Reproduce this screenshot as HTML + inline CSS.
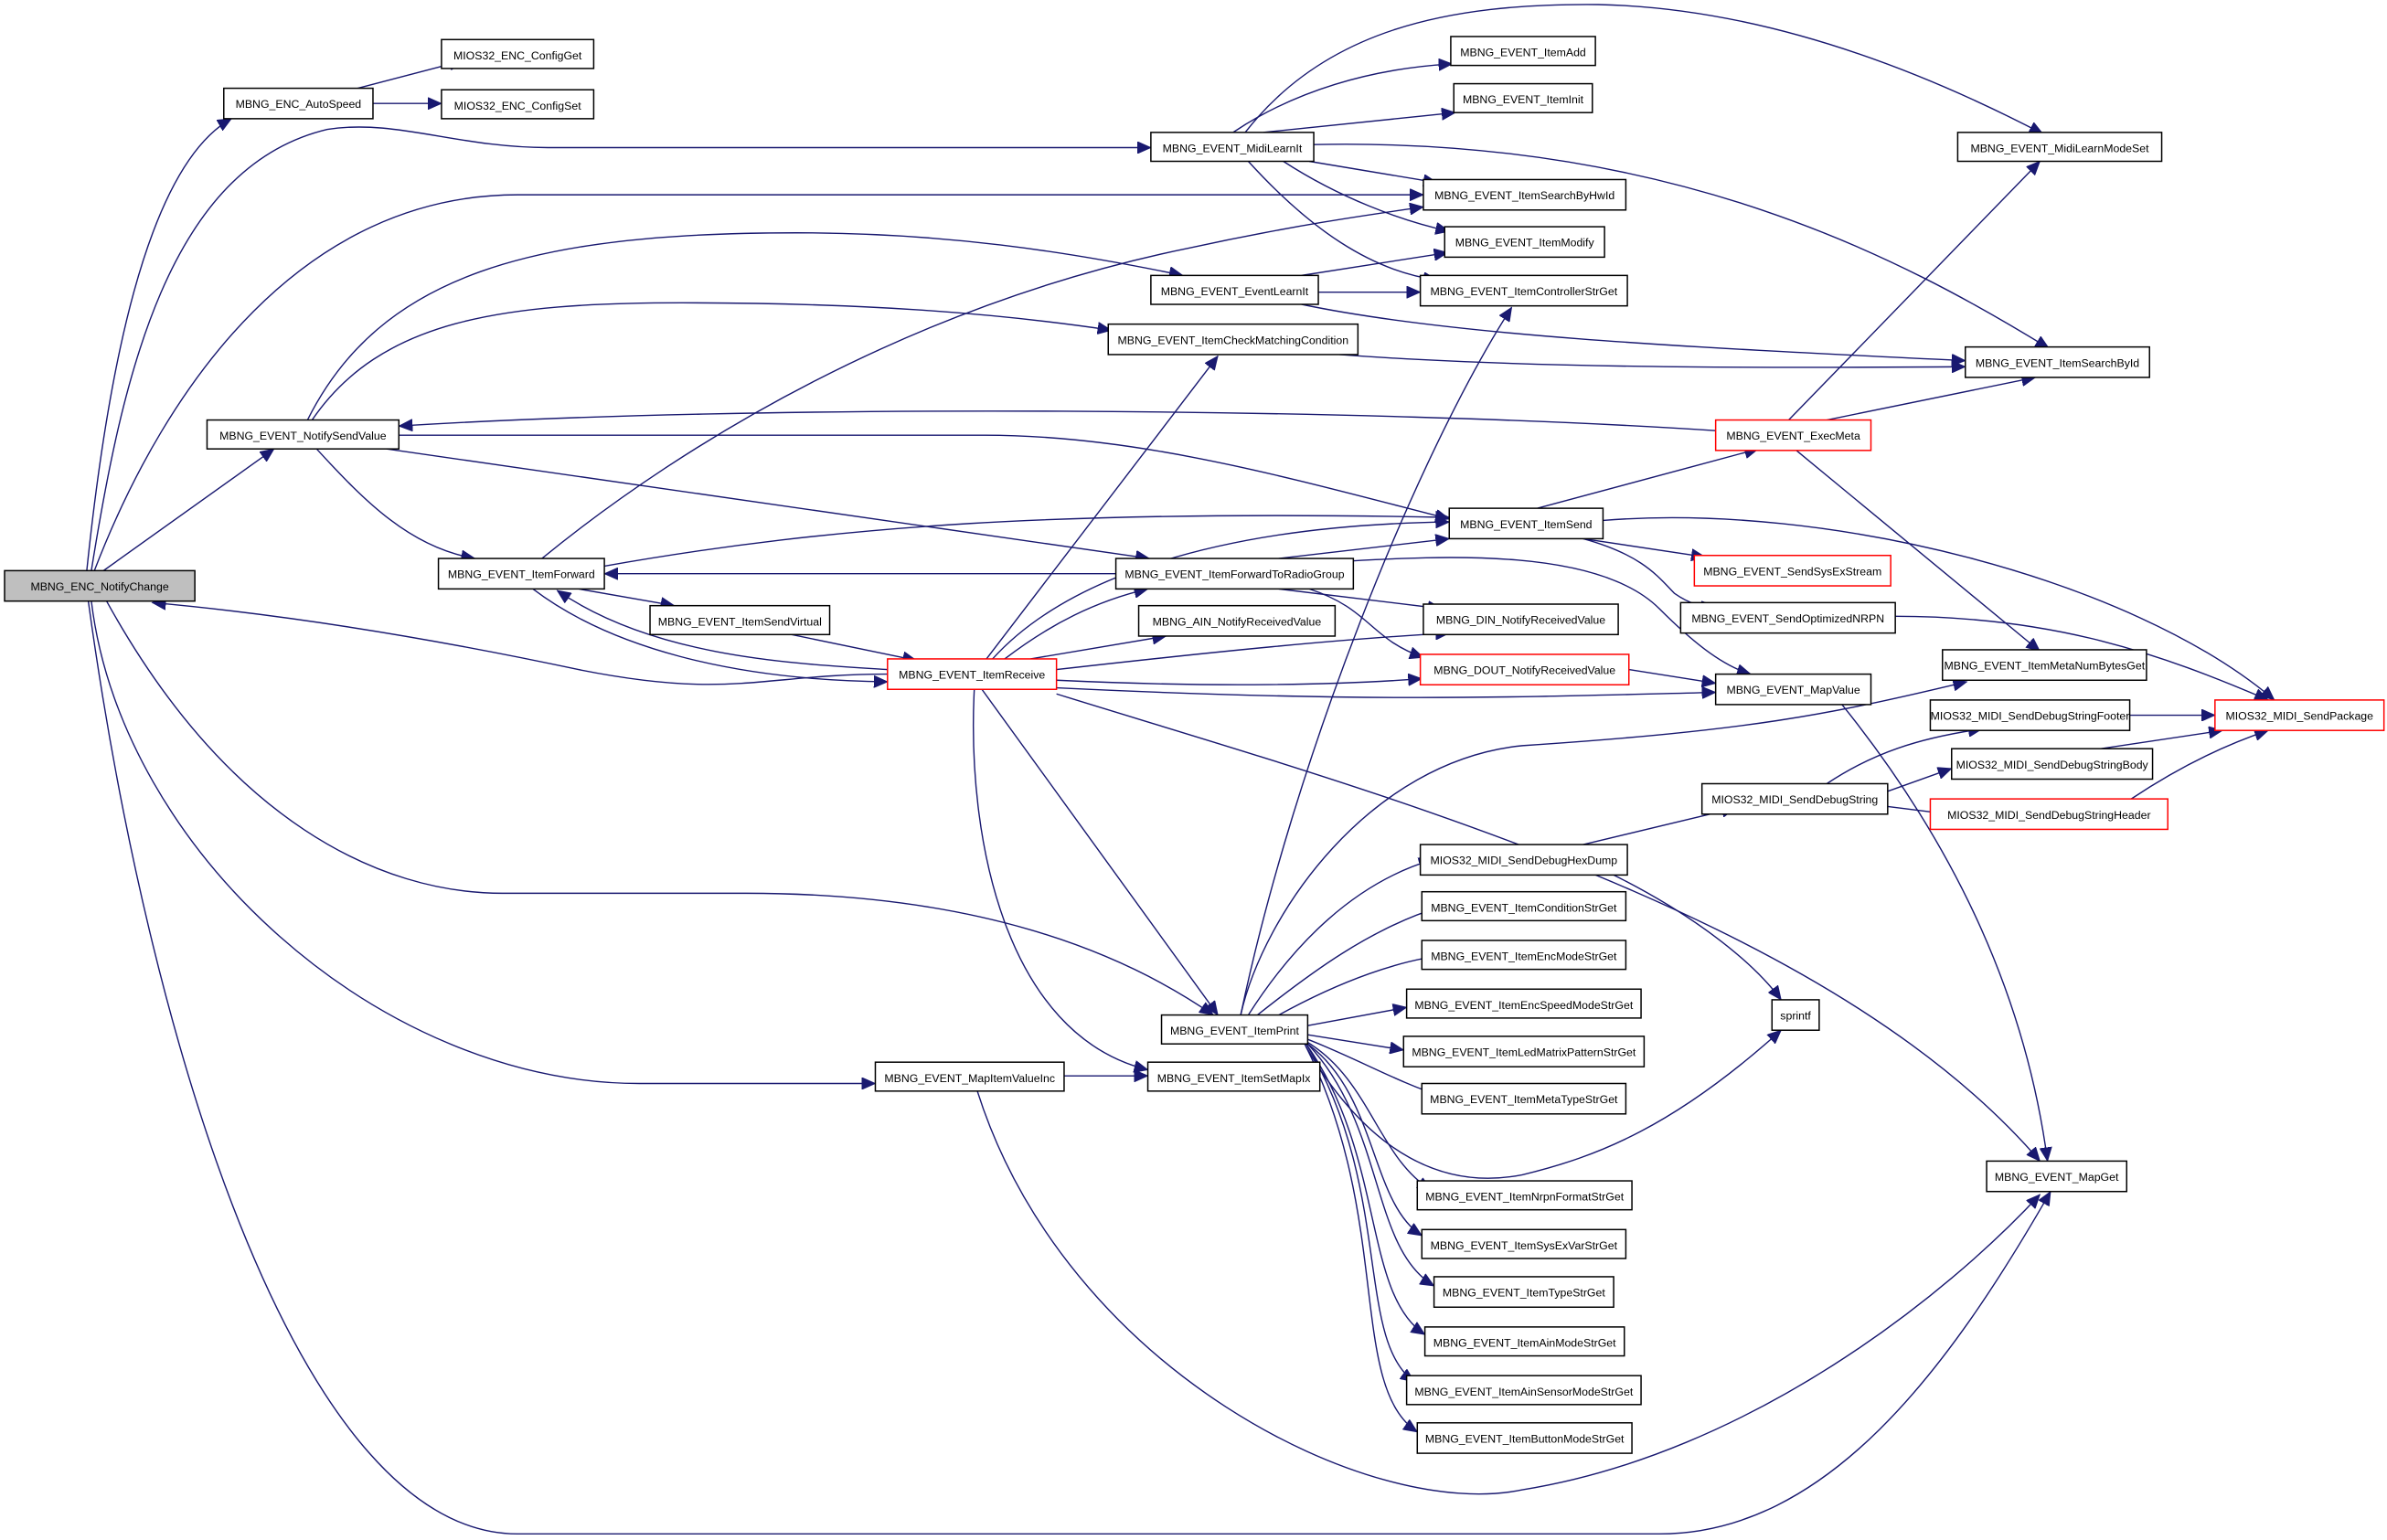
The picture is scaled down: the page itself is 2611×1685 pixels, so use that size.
<!DOCTYPE html>
<html><head><meta charset="utf-8"><style>
html,body{margin:0;padding:0;background:#fff;}
svg{display:block;}
text{font-family:"Liberation Sans",sans-serif;font-size:7.4px;fill:#000;}
.e{fill:none;stroke:#191970;stroke-width:0.85;marker-end:url(#a);}
.n{fill:#fff;stroke:#000;stroke-width:0.9;}
.r{fill:#fff;stroke:#ff0000;stroke-width:0.9;}
</style></head><body>
<svg width="2611" height="1685" viewBox="0 0 1568 1012" preserveAspectRatio="none" xmlns="http://www.w3.org/2000/svg">
<defs><marker id="a" markerUnits="userSpaceOnUse" markerWidth="10" markerHeight="8" refX="9" refY="4" orient="auto"><path d="M0,0 L9,4 L0,8 Z" fill="#191970" stroke="#191970" stroke-width="0.5"/></marker></defs>
<rect width="1568" height="1012" fill="#fff"/>
<g>
<path class="e" d="M57,375 C70,250 95,110 152,78"/>
<path class="e" d="M60,375 C80,250 110,110 215,85 C260,78 300,97 360,97 L756,97"/>
<path class="e" d="M62,375 C110,250 200,128 340,128 L935,128"/>
<path class="e" d="M68,375 L180,295"/>
<path class="e" d="M70,395 C150,540 250,587 330,587 L490,587 C580,587 700,600 797,667"/>
<path class="e" d="M60,395 C80,560 250,712 420,712 L575,712"/>
<path class="e" d="M58,395 C100,700 200,1008 340,1008 L1090,1008 C1200,1008 1280,900 1347,783"/>
<path class="e" d="M583,443 C500,443 480,460 380,440 C300,423 200,405 100,396"/>
<path class="e" d="M235,58 L304,40"/>
<path class="e" d="M245,68 L290,68"/>
<path class="e" d="M202,276 C250,180 350,153 523,153 C620,153 700,165 777,181"/>
<path class="e" d="M205,276 C250,210 330,199 448,199 C560,199 650,205 730,217"/>
<path class="e" d="M262,286 L647,286 C750,286 850,315 952,341"/>
<path class="e" d="M208,295 C240,330 270,360 312,367"/>
<path class="e" d="M254,295 L755,367"/>
<path class="e" d="M356,367 C450,290 600,200 781,163 C850,148 900,141 935,136"/>
<path class="e" d="M380,387 L443,398"/>
<path class="e" d="M350,387 C400,425 480,447 583,448"/>
<path class="e" d="M397,372 C550,345 700,335 952,340"/>
<path class="e" d="M583,440 C520,436 430,432 366,388"/>
<path class="e" d="M733,377 L397,377"/>
<path class="e" d="M520,417 L602,434"/>
<path class="e" d="M648,433 L800,234"/>
<path class="e" d="M652,433 C700,380 800,345 952,343"/>
<path class="e" d="M660,433 C690,410 720,395 754,387"/>
<path class="e" d="M677,433 L766,418"/>
<path class="e" d="M694,440 C800,428 880,420 952,416"/>
<path class="e" d="M694,447 C800,452 880,450 934,446"/>
<path class="e" d="M694,452 C900,462 1000,458 1127,455"/>
<path class="e" d="M694,456 C900,520 1200,600 1340,763"/>
<path class="e" d="M645,453 L800,667"/>
<path class="e" d="M640,453 C635,550 660,680 754,703"/>
<path class="e" d="M840,367 L952,354"/>
<path class="e" d="M840,387 L947,400"/>
<path class="e" d="M860,387 C900,400 900,420 935,432"/>
<path class="e" d="M880,369 C950,365 1050,360 1090,400 C1110,420 1130,437 1150,443"/>
<path class="e" d="M1010,334 L1155,295"/>
<path class="e" d="M1040,354 L1120,366"/>
<path class="e" d="M1040,354 C1080,365 1090,380 1100,390 C1110,397 1118,399 1127,398"/>
<path class="e" d="M1053,342 C1200,330 1400,380 1494,460"/>
<path class="e" d="M1127,283 C900,268 500,265 262,280"/>
<path class="e" d="M1175,276 L1340,106"/>
<path class="e" d="M1200,276 L1337,248"/>
<path class="e" d="M1180,296 L1340,428"/>
<path class="e" d="M810,87 C850,60 900,45 954,42"/>
<path class="e" d="M830,87 L956,74"/>
<path class="e" d="M818,87 C870,20 950,2 1050,3 C1150,5 1250,40 1342,88"/>
<path class="e" d="M860,106 L944,120"/>
<path class="e" d="M843,106 C880,130 920,145 952,152"/>
<path class="e" d="M820,106 C860,150 900,178 944,184"/>
<path class="e" d="M863,95 C1100,90 1250,170 1346,229"/>
<path class="e" d="M855,181 L951,166"/>
<path class="e" d="M866,192 L933,192"/>
<path class="e" d="M855,200 C950,220 1100,228 1291,237"/>
<path class="e" d="M880,233 C1000,242 1150,242 1291,241"/>
<path class="e" d="M1070,440 L1127,449"/>
<path class="e" d="M1210,463 C1280,550 1330,650 1345,763"/>
<path class="e" d="M1245,405 C1350,405 1420,430 1490,460"/>
<path class="e" d="M815,667 C830,600 900,500 1000,490 C1150,480 1200,470 1292,448"/>
<path class="e" d="M1399,470 L1455,470"/>
<path class="e" d="M1380,492 L1460,480"/>
<path class="e" d="M1400,525 C1430,505 1460,490 1490,480"/>
<path class="e" d="M1200,515 C1230,495 1260,485 1302,479"/>
<path class="e" d="M1240,520 L1282,505"/>
<path class="e" d="M1240,530 L1280,535"/>
<path class="e" d="M1040,555 L1140,531"/>
<path class="e" d="M1060,575 C1110,600 1150,630 1170,657"/>
<path class="e" d="M858,688 C900,760 950,782 1000,772 C1050,760 1100,740 1170,677"/>
<path class="e" d="M815,667 C850,500 930,300 993,202"/>
<path class="e" d="M820,667 C850,620 890,580 941,565"/>
<path class="e" d="M826,667 C860,640 900,610 946,596"/>
<path class="e" d="M840,667 C880,645 920,630 955,627"/>
<path class="e" d="M859,674 L924,662"/>
<path class="e" d="M859,680 L922,690"/>
<path class="e" d="M859,683 C890,695 920,712 946,720"/>
<path class="e" d="M859,685 C900,710 905,760 940,782"/>
<path class="e" d="M859,686 C905,720 900,790 934,812"/>
<path class="e" d="M859,686 C910,740 900,820 942,845"/>
<path class="e" d="M858,686 C910,760 895,850 936,877"/>
<path class="e" d="M858,686 C915,780 890,880 929,908"/>
<path class="e" d="M857,686 C915,800 885,910 931,941"/>
<path class="e" d="M699,707 L754,707"/>
<path class="e" d="M642,717 C700,900 900,1000 1000,979 C1150,955 1280,850 1340,785"/>
</g>
<g>
<rect x="3" y="375" width="125" height="20" fill="#bfbfbf" stroke="#000" stroke-width="0.9"/><text x="65.5" y="388" text-anchor="middle">MBNG_ENC_NotifyChange</text>
<rect class="n" x="147" y="58" width="98" height="20"/><text x="196" y="71" text-anchor="middle">MBNG_ENC_AutoSpeed</text>
<rect class="n" x="290" y="26" width="100" height="19"/><text x="340" y="39" text-anchor="middle">MIOS32_ENC_ConfigGet</text>
<rect class="n" x="290" y="59" width="100" height="19"/><text x="340" y="72" text-anchor="middle">MIOS32_ENC_ConfigSet</text>
<rect class="n" x="756" y="87" width="107" height="19"/><text x="809.5" y="100" text-anchor="middle">MBNG_EVENT_MidiLearnIt</text>
<rect class="n" x="953" y="24" width="95" height="19"/><text x="1000.5" y="37" text-anchor="middle">MBNG_EVENT_ItemAdd</text>
<rect class="n" x="955" y="55" width="91" height="19"/><text x="1000.5" y="68" text-anchor="middle">MBNG_EVENT_ItemInit</text>
<rect class="n" x="1286" y="87" width="134" height="19"/><text x="1353" y="100" text-anchor="middle">MBNG_EVENT_MidiLearnModeSet</text>
<rect class="n" x="935" y="118" width="133" height="20"/><text x="1001.5" y="131" text-anchor="middle">MBNG_EVENT_ItemSearchByHwId</text>
<rect class="n" x="949" y="149" width="105" height="20"/><text x="1001.5" y="162" text-anchor="middle">MBNG_EVENT_ItemModify</text>
<rect class="n" x="756" y="181" width="110" height="19"/><text x="811" y="194" text-anchor="middle">MBNG_EVENT_EventLearnIt</text>
<rect class="n" x="933" y="181" width="136" height="20"/><text x="1001" y="194" text-anchor="middle">MBNG_EVENT_ItemControllerStrGet</text>
<rect class="n" x="728" y="213" width="164" height="20"/><text x="810" y="226" text-anchor="middle">MBNG_EVENT_ItemCheckMatchingCondition</text>
<rect class="n" x="1291" y="228" width="121" height="20"/><text x="1351.5" y="241" text-anchor="middle">MBNG_EVENT_ItemSearchById</text>
<rect class="n" x="136" y="276" width="126" height="19"/><text x="199" y="289" text-anchor="middle">MBNG_EVENT_NotifySendValue</text>
<rect class="r" x="1127" y="276" width="102" height="20"/><text x="1178" y="289" text-anchor="middle">MBNG_EVENT_ExecMeta</text>
<rect class="n" x="952" y="334" width="101" height="20"/><text x="1002.5" y="347" text-anchor="middle">MBNG_EVENT_ItemSend</text>
<rect class="n" x="288" y="367" width="109" height="20"/><text x="342.5" y="380" text-anchor="middle">MBNG_EVENT_ItemForward</text>
<rect class="n" x="733" y="367" width="156" height="20"/><text x="811" y="380" text-anchor="middle">MBNG_EVENT_ItemForwardToRadioGroup</text>
<rect class="r" x="1113" y="365" width="129" height="20"/><text x="1177.5" y="378" text-anchor="middle">MBNG_EVENT_SendSysExStream</text>
<rect class="n" x="427" y="398" width="118" height="19"/><text x="486" y="411" text-anchor="middle">MBNG_EVENT_ItemSendVirtual</text>
<rect class="n" x="748" y="398" width="129" height="20"/><text x="812.5" y="411" text-anchor="middle">MBNG_AIN_NotifyReceivedValue</text>
<rect class="n" x="935" y="397" width="128" height="20"/><text x="999" y="410" text-anchor="middle">MBNG_DIN_NotifyReceivedValue</text>
<rect class="n" x="1104" y="396" width="141" height="20"/><text x="1174.5" y="409" text-anchor="middle">MBNG_EVENT_SendOptimizedNRPN</text>
<rect class="r" x="583" y="433" width="111" height="20"/><text x="638.5" y="446" text-anchor="middle">MBNG_EVENT_ItemReceive</text>
<rect class="r" x="933" y="430" width="137" height="20"/><text x="1001.5" y="443" text-anchor="middle">MBNG_DOUT_NotifyReceivedValue</text>
<rect class="n" x="1276" y="427" width="134" height="20"/><text x="1343" y="440" text-anchor="middle">MBNG_EVENT_ItemMetaNumBytesGet</text>
<rect class="n" x="1127" y="443" width="102" height="20"/><text x="1178" y="456" text-anchor="middle">MBNG_EVENT_MapValue</text>
<rect class="n" x="1268" y="460" width="131" height="20"/><text x="1333.5" y="473" text-anchor="middle">MIOS32_MIDI_SendDebugStringFooter</text>
<rect class="r" x="1455" y="460" width="111" height="20"/><text x="1510.5" y="473" text-anchor="middle">MIOS32_MIDI_SendPackage</text>
<rect class="n" x="1282" y="492" width="132" height="20"/><text x="1348" y="505" text-anchor="middle">MIOS32_MIDI_SendDebugStringBody</text>
<rect class="n" x="1118" y="515" width="122" height="20"/><text x="1179" y="528" text-anchor="middle">MIOS32_MIDI_SendDebugString</text>
<rect class="r" x="1268" y="525" width="156" height="20"/><text x="1346" y="538" text-anchor="middle">MIOS32_MIDI_SendDebugStringHeader</text>
<rect class="n" x="933" y="555" width="136" height="20"/><text x="1001" y="568" text-anchor="middle">MIOS32_MIDI_SendDebugHexDump</text>
<rect class="n" x="934" y="586" width="134" height="19"/><text x="1001" y="599" text-anchor="middle">MBNG_EVENT_ItemConditionStrGet</text>
<rect class="n" x="934" y="618" width="134" height="19"/><text x="1001" y="631" text-anchor="middle">MBNG_EVENT_ItemEncModeStrGet</text>
<rect class="n" x="924" y="650" width="154" height="19"/><text x="1001" y="663" text-anchor="middle">MBNG_EVENT_ItemEncSpeedModeStrGet</text>
<rect class="n" x="1164" y="657" width="31" height="20"/><text x="1179.5" y="670" text-anchor="middle">sprintf</text>
<rect class="n" x="763" y="667" width="96" height="19"/><text x="811" y="680" text-anchor="middle">MBNG_EVENT_ItemPrint</text>
<rect class="n" x="922" y="681" width="158" height="20"/><text x="1001" y="694" text-anchor="middle">MBNG_EVENT_ItemLedMatrixPatternStrGet</text>
<rect class="n" x="575" y="698" width="124" height="19"/><text x="637" y="711" text-anchor="middle">MBNG_EVENT_MapItemValueInc</text>
<rect class="n" x="754" y="698" width="113" height="19"/><text x="810.5" y="711" text-anchor="middle">MBNG_EVENT_ItemSetMapIx</text>
<rect class="n" x="934" y="712" width="134" height="20"/><text x="1001" y="725" text-anchor="middle">MBNG_EVENT_ItemMetaTypeStrGet</text>
<rect class="n" x="1305" y="763" width="92" height="20"/><text x="1351" y="776" text-anchor="middle">MBNG_EVENT_MapGet</text>
<rect class="n" x="931" y="776" width="141" height="19"/><text x="1001.5" y="789" text-anchor="middle">MBNG_EVENT_ItemNrpnFormatStrGet</text>
<rect class="n" x="934" y="808" width="134" height="19"/><text x="1001" y="821" text-anchor="middle">MBNG_EVENT_ItemSysExVarStrGet</text>
<rect class="n" x="942" y="839" width="118" height="20"/><text x="1001" y="852" text-anchor="middle">MBNG_EVENT_ItemTypeStrGet</text>
<rect class="n" x="936" y="872" width="131" height="19"/><text x="1001.5" y="885" text-anchor="middle">MBNG_EVENT_ItemAinModeStrGet</text>
<rect class="n" x="924" y="904" width="154" height="19"/><text x="1001" y="917" text-anchor="middle">MBNG_EVENT_ItemAinSensorModeStrGet</text>
<rect class="n" x="931" y="935" width="141" height="20"/><text x="1001.5" y="948" text-anchor="middle">MBNG_EVENT_ItemButtonModeStrGet</text>
</g>
</svg>
</body></html>
